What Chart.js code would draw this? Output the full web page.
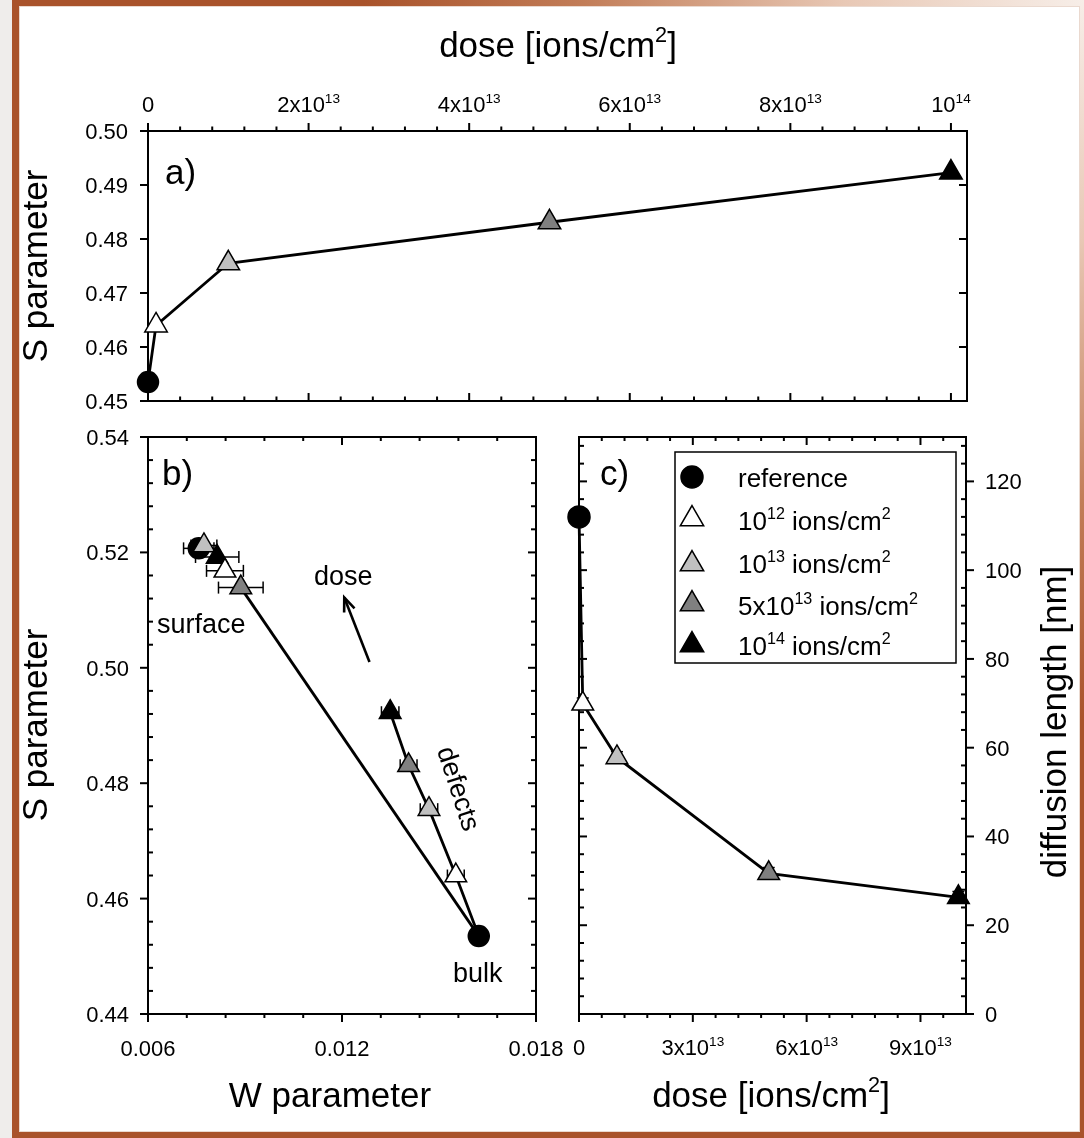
<!DOCTYPE html>
<html>
<head>
<meta charset="utf-8">
<title>Positron annihilation: S, W and diffusion length vs. dose</title>
<script src="https://cdn.jsdelivr.net/npm/chart.js@4.4.1/dist/chart.umd.min.js"></script>
<style>
  html, body { margin: 0; padding: 0; }
  body { width: 1084px; height: 1138px; position: relative; overflow: hidden; background: #efedeb; }
  #frame { position: absolute; left: 12px; top: 0; width: 1072px; height: 1138px;
           background: radial-gradient(circle at 100% 0%, #f7eee8 0px, #e8c8b5 240px, #c27d58 500px, #a9532b 720px); }
  #sheet { position: absolute; left: 20px; top: 7px; width: 1059px; height: 1124px; background: #fff;
           box-shadow: 0 0 0 1px #ead9cf; }
  canvas { position: absolute; left: 0; top: 0; }
</style>
</head>
<body>
<div id="frame"></div>
<div id="sheet"></div>
<canvas id="panelA" width="1084" height="1138"></canvas>
<canvas id="panelB" width="1084" height="1138"></canvas>
<canvas id="panelC" width="1084" height="1138"></canvas>
<script>
// ---------------- data ----------------
// implantation doses in ions/cm^2 (index 0 = unirradiated reference)
const doses = [0, 1e12, 1e13, 5e13, 1e14];
const doseNames = ['reference', '10^12 ions/cm^2', '10^13 ions/cm^2', '5x10^13 ions/cm^2', '10^14 ions/cm^2'];

// defect layer (bulk for the reference)
const sDefect = [0.4535, 0.4640, 0.4755, 0.4831, 0.4923];
const wDefect = [0.01623, 0.01552, 0.01469, 0.01406, 0.01349];
const wDefectErr = [0.00010, 0.00026, 0.00027, 0.00026, 0.00027];

// surface layer
const sSurface = [0.5207, 0.5168, 0.5212, 0.5139, 0.5192];
const wSurface = [0.00757, 0.00838, 0.00773, 0.00887, 0.00814];
const wSurfaceErr = [0.00047, 0.00057, 0.00040, 0.00069, 0.00067];

// positron diffusion length [nm]
const diffLength = [112.0, 69.9, 57.8, 31.7, 26.3];
const diffLengthErr = [0, 1.3, 1.3, 1.3, 1.3];

// axis ticks and labels
const doseTicksA = [0, 2e13, 4e13, 6e13, 8e13, 1e14];
const doseTickLabelsA = ['0', '2x10^13', '4x10^13', '6x10^13', '8x10^13', '10^14'];
const sTicksA = [0.45, 0.46, 0.47, 0.48, 0.49, 0.50];
const sTickLabelsA = ['0.45', '0.46', '0.47', '0.48', '0.49', '0.50'];
const wTicksB = [0.006, 0.012, 0.018];
const wTickLabelsB = ['0.006', '0.012', '0.018'];
const sTicksB = [0.44, 0.46, 0.48, 0.50, 0.52, 0.54];
const sTickLabelsB = ['0.44', '0.46', '0.48', '0.50', '0.52', '0.54'];
const doseTicksC = [0, 3e13, 6e13, 9e13];
const doseTickLabelsC = ['0', '3x10^13', '6x10^13', '9x10^13'];
const lengthTicksC = [0, 20, 40, 60, 80, 100, 120];
const lengthTickLabelsC = ['0', '20', '40', '60', '80', '100', '120'];

// ---------------- styles ----------------
const markerFill = ['#000000', '#ffffff', '#c0c0c0', '#808080', '#000000'];
const markerShape = ['circle', 'triangle', 'triangle', 'triangle', 'triangle'];
const surfaceDrawOrder = [0, 2, 4, 1, 3];
const FONT = "'Liberation Sans', Arial, Helvetica, sans-serif";
const PAGE_W = 1084, PAGE_H = 1138;
const LINE_W = 2.8;

// ---------------- text helpers ----------------
function richParts(s) {
  const out = [];
  const re = /\^(\d+)/g;
  let last = 0, m;
  while ((m = re.exec(s)) !== null) {
    if (m.index > last) out.push({ t: s.slice(last, m.index), sup: false });
    out.push({ t: m[1], sup: true });
    last = re.lastIndex;
  }
  if (last < s.length) out.push({ t: s.slice(last), sup: false });
  return out;
}

// draws text with ^NN superscripts; y is the baseline
function richText(ctx, s, x, y, size, align) {
  const parts = richParts(s);
  const supSize = size * 0.62, rise = size * 0.42;
  let total = 0;
  parts.forEach(p => {
    ctx.font = (p.sup ? supSize : size) + 'px ' + FONT;
    p.w = ctx.measureText(p.t).width;
    total += p.w;
  });
  let cx = align === 'center' ? x - total / 2 : (align === 'right' ? x - total : x);
  ctx.textAlign = 'left';
  ctx.textBaseline = 'alphabetic';
  ctx.fillStyle = '#000';
  parts.forEach(p => {
    ctx.font = (p.sup ? supSize : size) + 'px ' + FONT;
    ctx.fillText(p.t, cx, p.sup ? y - rise : y);
    cx += p.w;
  });
}

function rotatedText(ctx, s, x, y, size, angle) {
  ctx.save();
  ctx.translate(x, y);
  ctx.rotate(angle);
  richText(ctx, s, 0, 0, size, 'center');
  ctx.restore();
}

function minorTicks(from, to, step, majors) {
  const out = [];
  const n = Math.round((to - from) / step);
  for (let k = 0; k <= n; k++) {
    const v = from + k * step;
    if (!majors.some(m => Math.abs(m - v) < step * 1e-3)) out.push(v);
  }
  return out;
}

function seg(ctx, x1, y1, x2, y2) {
  ctx.beginPath(); ctx.moveTo(x1, y1); ctx.lineTo(x2, y2); ctx.stroke();
}

function marker(ctx, shape, fill, x, y, r) {
  ctx.beginPath();
  if (shape === 'circle') {
    ctx.arc(x, y, r, 0, Math.PI * 2);
  } else {
    for (let k = 0; k < 3; k++) {
      const a = k * 2 * Math.PI / 3;
      const px = x + Math.sin(a) * r, py = y - Math.cos(a) * r;
      if (k === 0) ctx.moveTo(px, py); else ctx.lineTo(px, py);
    }
    ctx.closePath();
  }
  ctx.fillStyle = fill;
  ctx.fill();
  ctx.lineWidth = 1.5;
  ctx.strokeStyle = '#000';
  ctx.stroke();
}

// ---------------- axes / decorations plugin ----------------
function drawAxis(chart, ax) {
  const ctx = chart.ctx, a = chart.chartArea;
  const scale = chart.scales[ax.scale];
  const horiz = ax.side === 'top' || ax.side === 'bottom';
  const outSign = (ax.side === 'top' || ax.side === 'left') ? -1 : 1;
  const base = a[ax.side];
  ctx.strokeStyle = '#000';
  ctx.lineWidth = 2;
  const tick = (v, len, dir) => {
    const p = scale.getPixelForValue(v);
    const d = (dir === 'out' ? outSign : -outSign) * len;
    if (horiz) seg(ctx, p, base, p, base + d);
    else seg(ctx, base, p, base + d, p);
  };
  (ax.minor || []).forEach(v => tick(v, ax.minorLen, ax.minorDir));
  ax.major.forEach(v => tick(v, ax.majorLen, ax.majorDir));
  if (ax.labels) {
    const size = 22;
    ax.major.forEach((v, i) => {
      const p = scale.getPixelForValue(v);
      const s = ax.labels[i];
      if (ax.side === 'top') richText(ctx, s, p, a.top - ax.gap, size, 'center');
      else if (ax.side === 'bottom') richText(ctx, s, p, a.bottom + ax.gap, size, 'center');
      else if (ax.side === 'left') richText(ctx, s, a.left - ax.gap, p + size * 0.36, size, 'right');
      else richText(ctx, s, a.right + ax.gap, p + size * 0.36, size, 'left');
    });
  }
}

function drawErrorBars(chart, eb) {
  const ctx = chart.ctx, sx = chart.scales.x, sy = chart.scales.y;
  const cap = 6;
  ctx.strokeStyle = '#000';
  ctx.lineWidth = 1.5;
  eb.x.forEach((xv, i) => {
    const px = sx.getPixelForValue(xv), py = sy.getPixelForValue(eb.y[i]);
    if (eb.xErr && eb.xErr[i]) {
      const l = sx.getPixelForValue(xv - eb.xErr[i]), r = sx.getPixelForValue(xv + eb.xErr[i]);
      seg(ctx, l, py, r, py);
      seg(ctx, l, py - cap, l, py + cap);
      seg(ctx, r, py - cap, r, py + cap);
    }
    if (eb.yErr && eb.yErr[i]) {
      const t = sy.getPixelForValue(eb.y[i] + eb.yErr[i]), b = sy.getPixelForValue(eb.y[i] - eb.yErr[i]);
      seg(ctx, px, t, px, b);
      seg(ctx, px - cap, t, px + cap, t);
      seg(ctx, px - cap, b, px + cap, b);
    }
  });
}

const decoPlugin = {
  id: 'deco',
  beforeDatasetsDraw(chart, args, o) {
    const ctx = chart.ctx, a = chart.chartArea;
    ctx.save();
    ctx.strokeStyle = '#000';
    ctx.lineWidth = 2;
    ctx.strokeRect(a.left, a.top, a.right - a.left, a.bottom - a.top);
    (o.axes || []).forEach(ax => drawAxis(chart, ax));
    (o.errorBars || []).forEach(eb => drawErrorBars(chart, eb));
    ctx.restore();
  },
  afterDatasetsDraw(chart, args, o) {
    if (o.after) {
      chart.ctx.save();
      o.after(chart);
      chart.ctx.restore();
    }
  }
};

function makeChart(id, area, xr, yr, datasets, deco) {
  return new Chart(document.getElementById(id), {
    type: 'scatter',
    data: { datasets },
    options: {
      responsive: false,
      animation: false,
      devicePixelRatio: 1,
      events: [],
      layout: { padding: { left: area.left, top: area.top, right: PAGE_W - area.right, bottom: PAGE_H - area.bottom } },
      plugins: { legend: { display: false }, tooltip: { enabled: false }, deco },
      scales: {
        x: { type: 'linear', display: false, min: xr[0], max: xr[1] },
        y: { type: 'linear', display: false, min: yr[0], max: yr[1] }
      }
    },
    plugins: [decoPlugin]
  });
}

const pointSize = (shapes, rc, rt) => shapes.map(s => s === 'circle' ? rc : rt);

// ---------------- panel a: S parameter vs dose ----------------
makeChart('panelA', { left: 148, top: 131, right: 967, bottom: 401 }, [0, 1.02e14], [0.45, 0.50], [
  {
    data: doses.map((d, i) => ({ x: d, y: sDefect[i] })),
    showLine: true, borderColor: '#000', borderWidth: LINE_W,
    pointStyle: markerShape, pointRadius: pointSize(markerShape, 10.5, 13),
    pointBackgroundColor: markerFill, pointBorderColor: '#000', pointBorderWidth: 1.5,
    clip: false
  }
], {
  axes: [
    { side: 'top', scale: 'x', major: doseTicksA, minor: minorTicks(0, 1e14, 4e12, doseTicksA),
      majorLen: 8, majorDir: 'out', minorLen: 4.5, minorDir: 'out', labels: doseTickLabelsA, gap: 19 },
    { side: 'bottom', scale: 'x', major: doseTicksA, minor: minorTicks(0, 1e14, 4e12, doseTicksA),
      majorLen: 8, majorDir: 'in', minorLen: 4.5, minorDir: 'in' },
    { side: 'left', scale: 'y', major: sTicksA, majorLen: 8, majorDir: 'out', labels: sTickLabelsA, gap: 20 },
    { side: 'right', scale: 'y', major: sTicksA, majorLen: 8, majorDir: 'in' }
  ],
  after(chart) {
    const ctx = chart.ctx, a = chart.chartArea;
    richText(ctx, 'a)', a.left + 17, 184, 35, 'left');
    richText(ctx, 'dose [ions/cm^2]', 558, 57, 35, 'center');
    rotatedText(ctx, 'S parameter', 47, 266, 35, -Math.PI / 2);
  }
});

// ---------------- panel b: S-W plot ----------------
const surfacePts = surfaceDrawOrder.map(i => ({ x: wSurface[i], y: sSurface[i] }));
makeChart('panelB', { left: 148, top: 437, right: 536, bottom: 1014 }, [0.006, 0.018], [0.44, 0.54], [
  {
    // surface layer points
    data: surfacePts, showLine: false, order: 0,
    pointStyle: surfaceDrawOrder.map(i => markerShape[i]),
    pointRadius: surfaceDrawOrder.map(i => markerShape[i] === 'circle' ? 10.5 : 12.5),
    pointBackgroundColor: surfaceDrawOrder.map(i => markerFill[i]),
    pointBorderColor: '#000', pointBorderWidth: 1.5, clip: false
  },
  {
    // bulk and defect layer points, joined
    data: doses.map((d, i) => ({ x: wDefect[i], y: sDefect[i] })),
    showLine: true, borderColor: '#000', borderWidth: LINE_W, order: 1,
    pointStyle: markerShape, pointRadius: pointSize(markerShape, 10.5, 12.5),
    pointBackgroundColor: markerFill, pointBorderColor: '#000', pointBorderWidth: 1.5, clip: false
  },
  {
    // bulk to surface
    data: [{ x: wDefect[0], y: sDefect[0] }, { x: wSurface[3], y: sSurface[3] }],
    showLine: true, borderColor: '#000', borderWidth: LINE_W, pointRadius: 0, order: 2, clip: false
  }
], {
  axes: [
    { side: 'bottom', scale: 'x', major: wTicksB, minor: minorTicks(0.006, 0.018, 0.0012, wTicksB),
      majorLen: 8, majorDir: 'out', minorLen: 4, minorDir: 'out', labels: wTickLabelsB, gap: 42 },
    { side: 'top', scale: 'x', major: wTicksB, minor: minorTicks(0.006, 0.018, 0.0012, wTicksB),
      majorLen: 8, majorDir: 'in', minorLen: 4, minorDir: 'in' },
    { side: 'left', scale: 'y', major: sTicksB, minor: minorTicks(0.44, 0.54, 0.004, sTicksB),
      majorLen: 8, majorDir: 'out', minorLen: 5, minorDir: 'in', labels: sTickLabelsB, gap: 19 },
    { side: 'right', scale: 'y', major: sTicksB, minor: minorTicks(0.44, 0.54, 0.004, sTicksB),
      majorLen: 8, majorDir: 'in', minorLen: 5, minorDir: 'in' }
  ],
  errorBars: [
    { x: wSurface, y: sSurface, xErr: wSurfaceErr },
    { x: wDefect, y: sDefect, xErr: wDefectErr }
  ],
  after(chart) {
    const ctx = chart.ctx, a = chart.chartArea;
    const sx = chart.scales.x, sy = chart.scales.y;
    const X = v => sx.getPixelForValue(v), Y = v => sy.getPixelForValue(v);
    richText(ctx, 'b)', a.left + 14, 485, 35, 'left');
    richText(ctx, 'dose', X(0.01204), Y(0.5143), 27, 'center');
    richText(ctx, 'surface', X(0.00765), Y(0.5060), 27, 'center');
    richText(ctx, 'bulk', X(0.0162), Y(0.4456), 27, 'center');
    rotatedText(ctx, 'defects', X(0.01535), Y(0.4786), 27, 72 * Math.PI / 180);
    // dose arrow
    const x1 = X(0.01285), y1 = Y(0.5010), x2 = X(0.01207), y2 = Y(0.5122);
    ctx.strokeStyle = '#000';
    ctx.lineWidth = 2.6;
    seg(ctx, x1, y1, x2, y2);
    const ang = Math.atan2(y2 - y1, x2 - x1);
    const hl = 15, hw = 0.38;
    ctx.beginPath();
    ctx.moveTo(x2 - hl * Math.cos(ang - hw), y2 - hl * Math.sin(ang - hw));
    ctx.lineTo(x2, y2);
    ctx.lineTo(x2 - hl * Math.cos(ang + hw), y2 - hl * Math.sin(ang + hw));
    ctx.stroke();
    rotatedText(ctx, 'S parameter', 47, 725, 35, -Math.PI / 2);
    richText(ctx, 'W parameter', 330, 1107, 35, 'center');
  }
});

// ---------------- panel c: diffusion length vs dose ----------------
makeChart('panelC', { left: 579, top: 437, right: 966, bottom: 1014 }, [0, 1.02e14], [0, 130], [
  {
    data: doses.map((d, i) => ({ x: d, y: diffLength[i] })),
    showLine: true, borderColor: '#000', borderWidth: LINE_W,
    pointStyle: markerShape, pointRadius: pointSize(markerShape, 11, 12.5),
    pointBackgroundColor: markerFill, pointBorderColor: '#000', pointBorderWidth: 1.5, clip: false
  }
], {
  axes: [
    { side: 'bottom', scale: 'x', major: doseTicksC, minor: minorTicks(0, 9.6e13, 6e12, doseTicksC),
      majorLen: 8, majorDir: 'out', minorLen: 4, minorDir: 'out', labels: doseTickLabelsC, gap: 41 },
    { side: 'top', scale: 'x', major: doseTicksC, minor: minorTicks(0, 9.6e13, 6e12, doseTicksC),
      majorLen: 8, majorDir: 'in', minorLen: 4, minorDir: 'in' },
    { side: 'right', scale: 'y', major: lengthTicksC, minor: minorTicks(0, 128, 4, lengthTicksC),
      majorLen: 8, majorDir: 'out', minorLen: 5, minorDir: 'in', labels: lengthTickLabelsC, gap: 19 },
    { side: 'left', scale: 'y', major: lengthTicksC, minor: minorTicks(0, 128, 4, lengthTicksC),
      majorLen: 8, majorDir: 'in', minorLen: 5, minorDir: 'in' }
  ],
  errorBars: [
    { x: doses, y: diffLength, yErr: diffLengthErr }
  ],
  after(chart) {
    const ctx = chart.ctx, a = chart.chartArea;
    richText(ctx, 'c)', a.left + 21, 485, 35, 'left');
    // legend
    const box = { left: 675, top: 452, right: 956, bottom: 663 };
    ctx.fillStyle = '#fff';
    ctx.fillRect(box.left, box.top, box.right - box.left, box.bottom - box.top);
    ctx.strokeStyle = '#000';
    ctx.lineWidth = 1.5;
    ctx.strokeRect(box.left, box.top, box.right - box.left, box.bottom - box.top);
    const rowBase = [487, 530, 573, 615, 655];
    const rowMark = [477, 519, 564, 604, 645];
    doseNames.forEach((name, i) => {
      marker(ctx, markerShape[i], markerFill[i], 692, rowMark[i], markerShape[i] === 'circle' ? 11 : 13.5);
      richText(ctx, name, 738, rowBase[i], 26, 'left');
    });
    richText(ctx, 'dose [ions/cm^2]', 771, 1107, 35, 'center');
    rotatedText(ctx, 'diffusion length [nm]', 1066, 722, 35, -Math.PI / 2);
  }
});
</script>
</body>
</html>
